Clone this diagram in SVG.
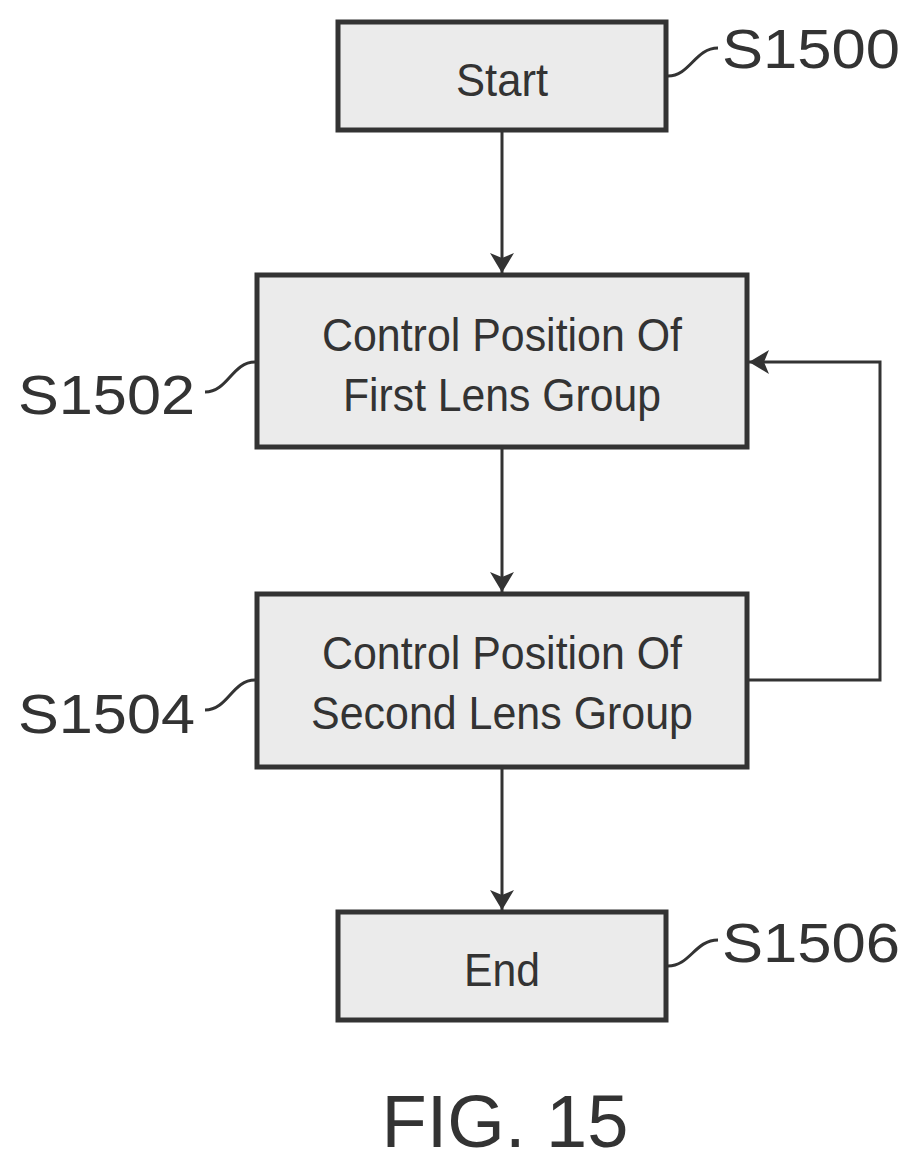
<svg xmlns="http://www.w3.org/2000/svg" width="919" height="1169" viewBox="0 0 919 1169">
<style>
.box{fill:#ebebeb;stroke:#333;stroke-width:5}
.t{font-family:"Liberation Sans",Arial,sans-serif;font-size:46px;fill:#333;text-anchor:middle}
.l{font-family:"Liberation Sans",Arial,sans-serif;font-size:56px;fill:#333}
.c{fill:none;stroke:#333;stroke-width:3}
</style>
<defs>
<marker id="ah" viewBox="0 0 20 24" markerWidth="20" markerHeight="24" refX="20" refY="12" orient="auto" markerUnits="userSpaceOnUse"><path d="M0,0L20,12L0,24L5,12z" fill="#333"/></marker></defs>
<rect width="919" height="1169" fill="#fff"/>
<g id="connectors">
<line class="c" x1="502" y1="130" x2="502" y2="273" marker-end="url(#ah)"/>
<line class="c" x1="502" y1="447" x2="502" y2="592" marker-end="url(#ah)"/>
<line class="c" x1="502" y1="767" x2="502" y2="910" marker-end="url(#ah)"/>
<polyline class="c" points="747,680 880,680 880,362 749,362" marker-end="url(#ah)"/>
</g>
<g id="s1500"><rect class="box" x="338" y="22" width="328" height="108"/><text class="t" x="502" y="96" textLength="92" lengthAdjust="spacingAndGlyphs">Start</text>
<path class="c" d="M668,76 C690,76 695,48 718,48"/><text class="l" x="722" y="68" textLength="178" lengthAdjust="spacingAndGlyphs">S1500</text></g>
<g id="s1502"><rect class="box" x="257" y="275" width="490" height="172"/>
<text class="t" x="502" y="351" textLength="360" lengthAdjust="spacingAndGlyphs">Control Position Of</text>
<text class="t" x="502" y="411" textLength="318" lengthAdjust="spacingAndGlyphs">First Lens Group</text>
<path class="c" d="M255,362 C232,362 228,392 205,392"/><text class="l" x="18" y="414" textLength="177" lengthAdjust="spacingAndGlyphs">S1502</text></g>
<g id="s1504"><rect class="box" x="257" y="594" width="490" height="173"/>
<text class="t" x="502" y="669" textLength="360" lengthAdjust="spacingAndGlyphs">Control Position Of</text>
<text class="t" x="502" y="729" textLength="382" lengthAdjust="spacingAndGlyphs">Second Lens Group</text>
<path class="c" d="M255,680 C232,680 228,710 205,710"/><text class="l" x="18" y="733" textLength="177" lengthAdjust="spacingAndGlyphs">S1504</text></g>
<g id="s1506"><rect class="box" x="338" y="912" width="328" height="108"/><text class="t" x="502" y="986" textLength="76" lengthAdjust="spacingAndGlyphs">End</text>
<path class="c" d="M668,966 C690,966 695,940 718,940"/><text class="l" x="722" y="962" textLength="178" lengthAdjust="spacingAndGlyphs">S1506</text></g>
<text x="505" y="1147" font-family="Liberation Sans,Arial,sans-serif" font-size="74" fill="#333" text-anchor="middle">FIG. 15</text>
</svg>
